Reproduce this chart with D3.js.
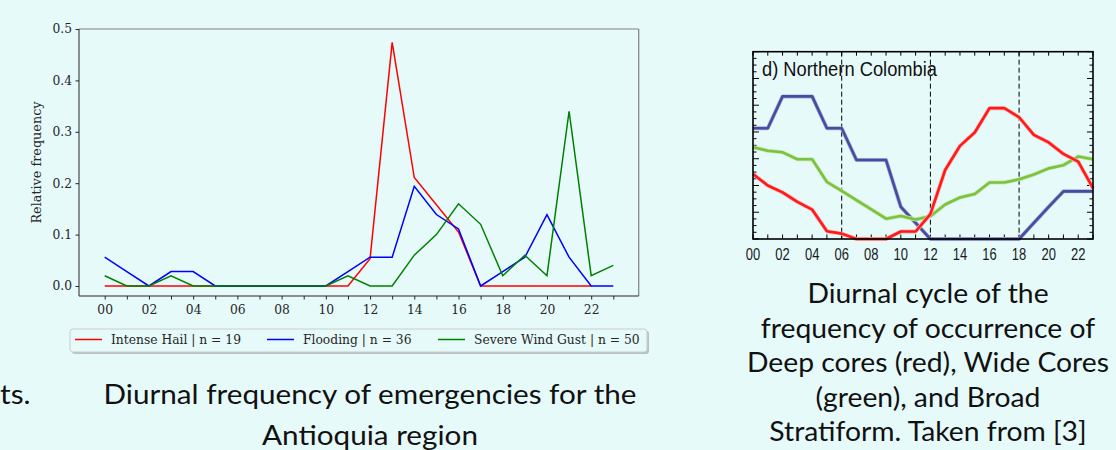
<!DOCTYPE html>
<html lang="en-US">
<head>
<script src="https://d3js.org/d3.v7.min.js"></script>
<style>
    body { margin: 0; background: #e6fafa; }
    svg text { cursor: default; user-select: none; }
</style>
</head>
<body>
<svg width="1116" height="450"></svg>

<script>
// ---- data: left chart (relative frequency of emergencies, Antioquia) ----
var hailHours = [0,1,2,3,4,5,6,7,8,9,10,11,12,13,14,15,16,17,18,19,20,21,22];
var hailFreq  = [0,0,0,0,0,0,0,0,0,0,0,0,0.053,0.474,0.211,0.158,0.105,0,0,0,0,0,0];
var hours     = [0,1,2,3,4,5,6,7,8,9,10,11,12,13,14,15,16,17,18,19,20,21,22,23];
var floodFreq = [0.056,0.028,0,0.028,0.028,0,0,0,0,0,0,0.028,0.056,0.056,0.194,0.139,0.111,0,0.028,0.056,0.139,0.056,0,0];
var gustFreq  = [0.02,0,0,0.02,0,0,0,0,0,0,0,0.02,0,0,0.06,0.10,0.16,0.12,0.02,0.06,0.02,0.34,0.02,0.04];
var yTicks = [0, 0.1, 0.2, 0.3, 0.4, 0.5];
var hourLabels = ["00","02","04","06","08","10","12","14","16","18","20","22"];
var legendNames = ["Intense Hail | n = 19", "Flooding | n = 36", "Severe Wind Gust | n = 50"];

// ---- data: right chart (Northern Colombia, arbitrary units) ----
var deepCores  = [2.43,2.0,1.74,1.39,1.1,0.29,0.2,0,0,0,0.28,0.28,0.93,2.58,3.48,3.98,4.89,4.89,4.55,3.89,3.61,3.18,2.89,1.9];
var wideCores  = [3.43,3.3,3.24,2.98,2.98,2.13,1.8,1.45,1.11,0.76,0.86,0.73,0.85,1.29,1.55,1.68,2.11,2.11,2.23,2.41,2.64,2.76,3.08,2.98];
var broadStrat = [4.14,4.14,5.33,5.33,5.33,4.14,4.14,2.95,2.95,2.95,1.2,0.6,0,0,0,0,0,0,0,0.6,1.2,1.78,1.78,1.78];
var dashedHours = [6, 12, 18];

var leftCaption = ["Diurnal frequency of emergencies for the", "Antioquia region"];
var rightCaption = ["Diurnal cycle of the", "frequency of occurrence of", "Deep cores (red), Wide Cores",
    "(green), and Broad", "Stratiform. Taken from [3]"];

var svg = d3.select("svg");
svg.append("rect").attr("width", 1116).attr("height", 450).attr("fill", "#e6fafa");

// ================= left chart =================
var serif = "DejaVu Serif";
var fs = 12.3;
var L = {left: 79, right: 638.7, top: 29, bottom: 296};
var x1 = d3.scaleLinear().domain([0, 23]).range([104.7, 613.3]);
var y1 = d3.scaleLinear().domain([0, 0.5]).range([286, 29]);

var left = svg.append("g");

// y axis
var yAxis = left.append("g").attr("transform", `translate(${L.left},0)`)
    .call(d3.axisLeft(y1).tickValues(yTicks).tickFormat(d3.format(".1f")).tickSize(3.5).tickPadding(3.5));
yAxis.select(".domain").remove();
yAxis.selectAll("text").attr("font-family", serif).attr("font-size", fs).attr("fill", "#262626");
yAxis.selectAll("line").attr("stroke", "#262626");

// x axis
var xAxis = left.append("g").attr("transform", `translate(0,${L.bottom})`)
    .call(d3.axisBottom(x1).tickValues(hours).tickSize(3.5).tickPadding(6)
        .tickFormat(d => d % 2 === 0 ? hourLabels[d / 2] : ""));
xAxis.select(".domain").remove();
xAxis.selectAll("text").attr("font-family", serif).attr("font-size", fs).attr("fill", "#262626");
xAxis.selectAll("line").attr("stroke", "#262626");

// spines
left.append("line").attr("x1", L.left).attr("x2", L.right).attr("y1", L.top).attr("y2", L.top)
    .attr("stroke", "#808080").attr("stroke-width", 1.2);
left.append("line").attr("x1", L.right).attr("x2", L.right).attr("y1", L.top).attr("y2", L.bottom)
    .attr("stroke", "#808080").attr("stroke-width", 1.2);
left.append("line").attr("x1", L.left).attr("x2", L.left).attr("y1", L.top).attr("y2", L.bottom)
    .attr("stroke", "#262626").attr("stroke-width", 1);
left.append("line").attr("x1", L.left).attr("x2", L.right).attr("y1", L.bottom).attr("y2", L.bottom)
    .attr("stroke", "#262626").attr("stroke-width", 1);

left.append("text")
    .attr("transform", `translate(37,${(L.top + L.bottom) / 2}) rotate(-90)`)
    .attr("text-anchor", "middle").attr("dominant-baseline", "middle")
    .attr("font-family", serif).attr("font-size", fs + 0.5).attr("fill", "#262626")
    .text("Relative frequency");

var line1 = d3.line().x(d => x1(d[0])).y(d => y1(d[1]));
var leftSeries = [
    {pts: d3.zip(hailHours, hailFreq), color: "#ff0000"},
    {pts: d3.zip(hours, floodFreq), color: "#0000ff"},
    {pts: d3.zip(hours, gustFreq), color: "#008000"}
];
left.selectAll(".series").data(leftSeries).enter().append("path")
    .attr("d", d => line1(d.pts))
    .attr("fill", "none").attr("stroke", d => d.color).attr("stroke-width", 1.5);

// legend
var lg = left.append("g");
lg.append("rect").attr("x", 72).attr("y", 331).attr("width", 577).attr("height", 23).attr("rx", 3)
    .attr("fill", "#9a9a9a").attr("opacity", 0.6);
lg.append("rect").attr("x", 70).attr("y", 329).attr("width", 577).attr("height", 23).attr("rx", 3)
    .attr("fill", "#e6fafa").attr("stroke", "#cccccc").attr("stroke-width", 1);
var legendX = [75, 267, 438];
legendNames.forEach(function(name, i) {
    lg.append("line").attr("x1", legendX[i]).attr("x2", legendX[i] + 27).attr("y1", 339.5).attr("y2", 339.5)
        .attr("stroke", leftSeries[i].color).attr("stroke-width", 1.5);
    lg.append("text").attr("x", legendX[i] + 36).attr("y", 344)
        .attr("font-family", serif).attr("font-size", fs).attr("fill", "#262626").text(name);
});

// ================= right chart =================
var sans = "Liberation Sans";
var R = {left: 753, right: 1093, top: 51.7, bottom: 239};
var x2 = d3.scaleLinear().domain([0, 23]).range([R.left, R.right]);
var y2 = d3.scaleLinear().domain([0, 7]).range([R.bottom, R.top]);
var right = svg.append("g");

// inner ticks
var minorY = d3.range(0, 7.01, 0.25);
right.selectAll(".ytl").data(minorY).enter().append("line")
    .attr("x1", R.left).attr("x2", d => R.left + (d % 1 === 0 ? 6 : 3.5))
    .attr("y1", d => y2(d)).attr("y2", d => y2(d)).attr("stroke", "#000").attr("stroke-width", 1);
right.selectAll(".ytr").data(minorY).enter().append("line")
    .attr("x1", R.right).attr("x2", d => R.right - (d % 1 === 0 ? 6 : 3.5))
    .attr("y1", d => y2(d)).attr("y2", d => y2(d)).attr("stroke", "#000").attr("stroke-width", 1);
right.selectAll(".xtb").data(hours).enter().append("line")
    .attr("x1", d => x2(d)).attr("x2", d => x2(d)).attr("y1", R.bottom).attr("y2", R.bottom - 4.5)
    .attr("stroke", "#000").attr("stroke-width", 1);
right.selectAll(".xtt").data(hours).enter().append("line")
    .attr("x1", d => x2(d)).attr("x2", d => x2(d)).attr("y1", R.top).attr("y2", R.top + 4)
    .attr("stroke", "#000").attr("stroke-width", 1);

right.selectAll(".dash").data(dashedHours).enter().append("line")
    .attr("x1", d => x2(d)).attr("x2", d => x2(d)).attr("y1", R.top).attr("y2", R.bottom)
    .attr("stroke", "#000").attr("stroke-width", 1).attr("stroke-dasharray", "5,3");

var line2 = d3.line().x((d, i) => x2(i)).y(d => y2(d));
var rightSeries = [
    {vals: broadStrat, color: "#474c9e", halo: "#a9addb"},
    {vals: wideCores, color: "#7cc242", halo: "#c7e8a6"},
    {vals: deepCores, color: "#ff1a1a", halo: "#ffb0b0"}
];
rightSeries.forEach(function(s) {
    right.append("path").attr("d", line2(s.vals)).attr("fill", "none")
        .attr("stroke", s.halo).attr("stroke-width", 4).attr("stroke-linejoin", "round");
    right.append("path").attr("d", line2(s.vals)).attr("fill", "none")
        .attr("stroke", s.color).attr("stroke-width", 2.6).attr("stroke-linejoin", "round");
});

right.append("rect").attr("x", R.left).attr("y", R.top).attr("width", R.right - R.left)
    .attr("height", R.bottom - R.top).attr("fill", "none").attr("stroke", "#000").attr("stroke-width", 1.6);

right.selectAll(".xl").data(hourLabels).enter().append("text")
    .attr("transform", (d, i) => `translate(${x2(i * 2)},260) scale(1,1.25)`)
    .attr("text-anchor", "middle").attr("font-family", sans).attr("font-size", 13)
    .attr("fill", "#1a1a1a").text(d => d);

right.append("text")
    .attr("transform", "translate(762,75.5) scale(1,1.15)")
    .attr("font-family", sans).attr("font-size", 17).attr("fill", "#111")
    .attr("textLength", 175).attr("lengthAdjust", "spacingAndGlyphs")
    .text("d) Northern Colombia");

// ================= captions =================
// one horizontal squeeze per block, taken from its widest line, so all lines keep the font's proportions
var capFont = "Lato", capSize = 27;
function caption(lines, cx, ys, widest) {
    var texts = lines.map((t, i) => svg.append("text").attr("x", cx).attr("y", ys[i])
        .attr("text-anchor", "middle").attr("font-family", capFont).attr("font-size", capSize)
        .attr("fill", "#111").text(t));
    var natural = texts.map(t => t.node().getComputedTextLength());
    var k = widest / d3.max(natural);
    texts.forEach((t, i) => t.attr("textLength", natural[i] * k).attr("lengthAdjust", "spacingAndGlyphs"));
    return k;
}
var k = caption(leftCaption, 370, [404, 444.5], 533);
svg.append("text").attr("x", 0).attr("y", 404).attr("font-family", capFont).attr("font-size", capSize)
    .attr("fill", "#111").text("ts.")
    .attr("textLength", function() { return this.getComputedTextLength() * k; })
    .attr("lengthAdjust", "spacingAndGlyphs");
caption(rightCaption, 928, [303, 337.5, 372, 406.5, 441], 362);
</script>
</body>
</html>
